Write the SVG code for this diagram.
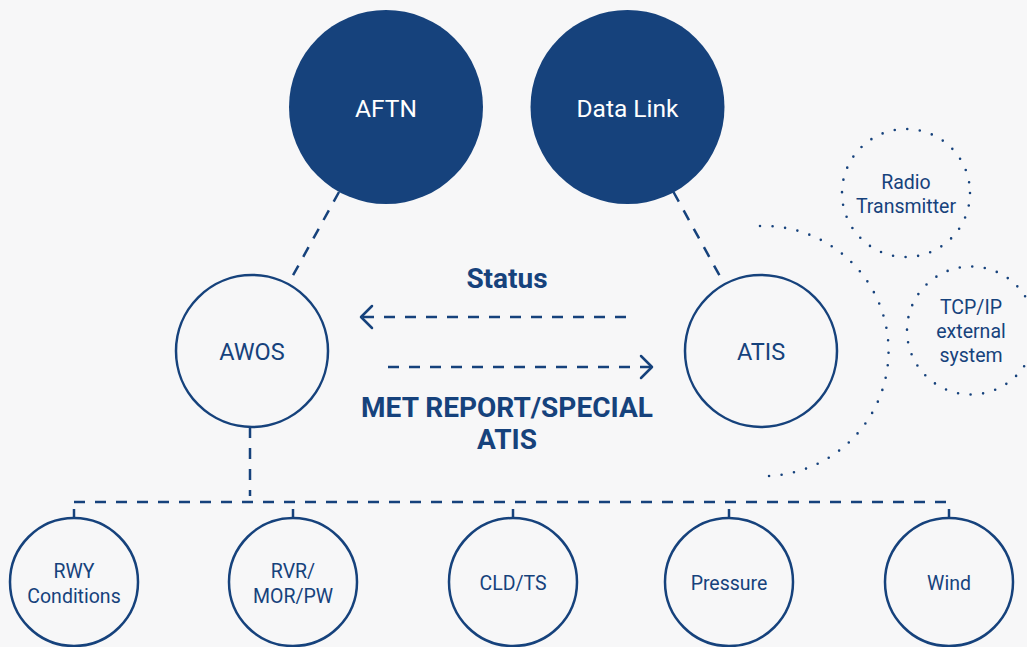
<svg xmlns="http://www.w3.org/2000/svg" width="1027" height="647" viewBox="0 0 1027 647">
<style>
.bg{fill:#f7f7f8}
.solid{fill:#16427c}
.ring{fill:none;stroke:#16427c;stroke-width:2.5}
.dotring{fill:none;stroke:#16427c;stroke-width:2.6;stroke-linecap:round;stroke-dasharray:0 12.6}
.dash{fill:none;stroke:#16427c;stroke-width:2.5;stroke-dasharray:11 10}
.tick{fill:none;stroke:#16427c;stroke-width:2.5}
.head{fill:none;stroke:#16427c;stroke-width:2.5;stroke-linecap:round;stroke-linejoin:round}
text{font-family:Roboto,"Liberation Sans",sans-serif;text-anchor:middle}
.wt{fill:#ffffff;font-size:24.5px}
.lt{fill:#16427c;font-size:23.5px}
.st{fill:#16427c;font-size:19.5px}
.bt{fill:#16427c;font-size:28px;font-weight:bold}
</style>
<rect class="bg" x="0" y="0" width="1027" height="647"/>
<g id="connectors">
<line class="dash" x1="339" y1="192" x2="288.5" y2="283.5"/>
<line class="dash" x1="673.5" y1="192" x2="724.5" y2="284.5"/>
<line class="dash" x1="626" y1="317" x2="362" y2="317"/>
<polyline class="head" points="372,306 361,317 372,328"/>
<line class="dash" x1="388" y1="367" x2="651" y2="367"/>
<polyline class="head" points="641,356 652,367 641,378"/>
<line class="dash" x1="250" y1="427" x2="250" y2="496"/>
<line class="dash" x1="74" y1="502" x2="950" y2="502"/>
<line class="tick" x1="74" y1="509" x2="74" y2="518"/>
<line class="tick" x1="293" y1="509" x2="293" y2="518"/>
<line class="tick" x1="513" y1="509" x2="513" y2="518"/>
<line class="tick" x1="729" y1="509" x2="729" y2="518"/>
<line class="tick" x1="949" y1="509" x2="949" y2="518"/>
<path class="dotring" d="M 760 226 A 125 125 0 0 1 767 476"/>
</g>
<text class="bt" x="507" y="288">Status</text>
<text class="bt" x="507" y="417">MET REPORT/SPECIAL</text>
<text class="bt" x="507" y="449">ATIS</text>
<g id="aftn"><circle class="solid" cx="386" cy="107" r="97"/><text class="wt" x="386" y="117">AFTN</text></g>
<g id="datalink"><circle class="solid" cx="627.5" cy="107" r="97"/><text class="wt" x="627.5" y="117">Data Link</text></g>
<g id="awos"><circle class="ring" cx="252" cy="351" r="76"/><text class="lt" x="252" y="360">AWOS</text></g>
<g id="atis"><circle class="ring" cx="761" cy="351" r="76"/><text class="lt" x="761" y="360">ATIS</text></g>
<g id="radio"><circle class="dotring" cx="906" cy="193" r="64"/><text class="st" x="906" y="189">Radio</text><text class="st" x="906" y="213">Transmitter</text></g>
<g id="tcpip"><circle class="dotring" cx="971" cy="330.5" r="64"/><text class="st" x="971" y="314">TCP/IP</text><text class="st" x="971" y="338">external</text><text class="st" x="971" y="362">system</text></g>
<g id="rwy"><circle class="ring" cx="74" cy="582" r="64"/><text class="st" x="74" y="578">RWY</text><text class="st" x="74" y="603">Conditions</text></g>
<g id="rvr"><circle class="ring" cx="293" cy="582" r="64"/><text class="st" x="293" y="578">RVR/</text><text class="st" x="293" y="603">MOR/PW</text></g>
<g id="cld"><circle class="ring" cx="513" cy="582" r="64"/><text class="st" x="513" y="590">CLD/TS</text></g>
<g id="pressure"><circle class="ring" cx="729" cy="582" r="64"/><text class="st" x="729" y="590">Pressure</text></g>
<g id="wind"><circle class="ring" cx="949" cy="582" r="64"/><text class="st" x="949" y="590">Wind</text></g>
</svg>
